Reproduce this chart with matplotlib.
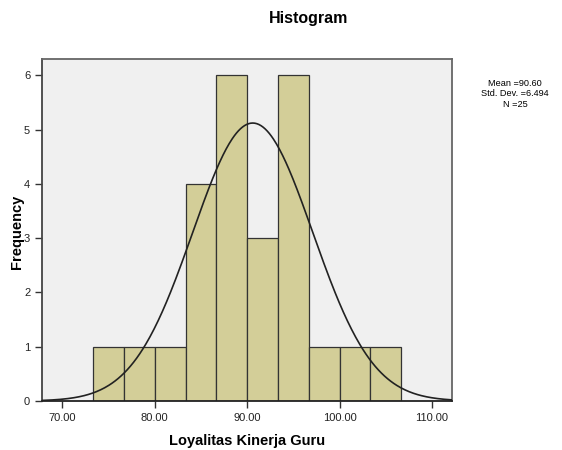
import matplotlib
matplotlib.use("Agg")
import matplotlib.pyplot as plt
import numpy as np

# histogram data (SPSS output)
bin_edges = [73.33, 76.67, 80.00, 83.33, 86.67, 90.00, 93.33, 96.67, 100.00, 103.33, 106.67]
counts = [1, 1, 1, 4, 6, 3, 6, 1, 1, 1]
mean = 90.60
std_dev = 6.494
n_total = 25
x_ticks = [70, 80, 90, 100, 110]
y_ticks = [0, 1, 2, 3, 4, 5, 6]

plt.rcParams["font.family"] = ["Liberation Sans", "DejaVu Sans"]

fig = plt.figure(figsize=(5.62, 4.5), dpi=100)
ax = fig.add_axes([42 / 562, 49 / 450, 410 / 562, 342 / 450])
ax.set_facecolor("#f0f0f0")

edges = np.array(bin_edges)
ax.bar(edges[:-1], counts, width=np.diff(edges), align="edge",
       color="#d3ce98", edgecolor="#333333", linewidth=0.9, zorder=2)

# normal curve scaled to counts
bw = np.mean(np.diff(edges))
xs = np.linspace(67.8, 112.2, 400)
ys = n_total * bw / (std_dev * np.sqrt(2 * np.pi)) * np.exp(-0.5 * ((xs - mean) / std_dev) ** 2)
ax.plot(xs, ys, color="#222222", linewidth=1.2, zorder=3)

ax.set_xlim(67.8, 112.16)
ax.set_ylim(0, 6.3)
ax.set_xticks(x_ticks)
ax.set_xticklabels([f"{v:.2f}" for v in x_ticks])
ax.set_yticks(y_ticks)
ax.tick_params(labelsize=8, color="#333333", length=5, width=1, labelcolor="#222222")

for s in ax.spines.values():
    s.set_color("#666666")
    s.set_linewidth(1.3)
ax.spines["bottom"].set_color("#222222")
ax.spines["left"].set_color("#444444")

ax.set_xlabel("Loyalitas Kinerja Guru", fontsize=10.5, fontweight="bold", labelpad=8)
# y label placed in figure coords (closer to the ticks than labelpad allows)
fig.text(17 / 562, 1 - 232 / 450, "Frequency", rotation=90, ha="center", va="center",
         fontsize=10.5, fontweight="bold")

fig.text(309 / 562, 1 - 19 / 450, "Histogram", ha="center", va="center",
         fontsize=11.5, fontweight="bold")
fig.text(515 / 562, 1 - 94 / 450,
         f"Mean ={mean:.2f}\nStd. Dev. ={std_dev:.3f}\nN ={n_total}",
         ha="center", va="center", fontsize=6.6, linespacing=1.2)

fig.savefig("out.png", dpi=100)
